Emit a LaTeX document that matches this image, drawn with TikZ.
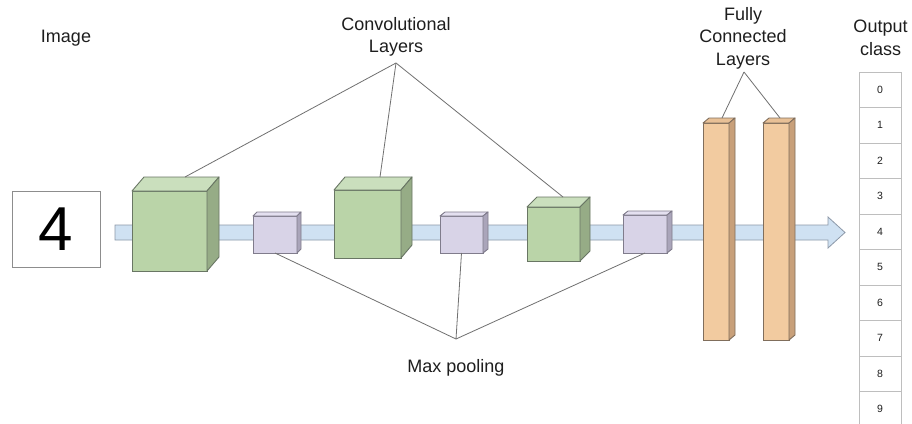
\documentclass[tikz,border=0pt]{standalone}
\usepackage{fontspec}
\setmainfont{Liberation Sans}
\usetikzlibrary{calc}
\definecolor{gfront}{RGB}{186,212,168}
\definecolor{gtop}{RGB}{202,223,189}
\definecolor{gside}{RGB}{150,172,134}
\definecolor{gedge}{RGB}{105,118,100}
\definecolor{pfront}{RGB}{216,211,231}
\definecolor{ptop}{RGB}{228,224,240}
\definecolor{pside}{RGB}{170,165,186}
\definecolor{pedge}{RGB}{128,124,140}
\definecolor{ofront}{RGB}{242,203,160}
\definecolor{otop}{RGB}{232,192,150}
\definecolor{oside}{RGB}{200,160,122}
\definecolor{oedge}{RGB}{128,110,92}
\definecolor{bandc}{RGB}{207,225,242}
\definecolor{bande}{RGB}{140,152,168}
\definecolor{linec}{RGB}{112,112,112}
\definecolor{cellc}{RGB}{190,190,190}
\definecolor{txt}{RGB}{30,30,30}
\tikzset{
  face/.style={inner sep=0pt,outer sep=0pt,line width=0.9pt},
  gcube/.style={face,draw=gedge,fill=gfront},
  pcube/.style={face,draw=pedge,fill=pfront},
  ocube/.style={face,draw=oedge,fill=ofront},
  label/.style={align=center,text=txt,font=\fontsize{18}{22.5}\selectfont},
  link/.style={draw=linec,line width=0.8pt},
  cell/.style={draw=cellc,line width=0.8pt,minimum width=42pt,minimum height=35.5pt,inner sep=0pt,text=txt,font=\fontsize{10.5}{12}\selectfont},
}
% #1 name, #2 style prefix (g/p/o), #3 dx, #4 dy
\newcommand{\cubefaces}[4]{%
  \filldraw[#2top,draw=#2edge,line width=0.9pt,line join=round]
    (#1.north west) -- ++(#3,-#4) -- ($(#1.north east)+(#3,-#4)$) -- (#1.north east) -- cycle;
  \filldraw[#2side,draw=#2edge,line width=0.9pt,line join=round]
    (#1.north east) -- ++(#3,-#4) -- ($(#1.south east)+(#3,-#4)$) -- (#1.south east) -- cycle;
}
\begin{document}
\begin{tikzpicture}[x=1pt,y=-1pt]
\useasboundingbox (0,0) rectangle (912,423);
\clip (0,0) rectangle (912,423);
\fill[white] (0,0) rectangle (912,423);

% labels
\node[label] (limg) at (66,38) {Image};
\node[label] (lconv) at (396,37) {Convolutional\\Layers};
\node[label] (lfc) at (743,38) {Fully\\Connected\\Layers};
\node[label] (lout) at (880.5,38) {Output\\class};
\node[label] (lpool) at (456,368) {Max pooling};

% input image
\node[draw=linec!80,line width=0.9pt,minimum width=88pt,minimum height=76pt,inner sep=0pt,text=black,font=\fontsize{62}{62}\selectfont] (img) at (56,229) {4};

% data flow band arrow
\filldraw[fill=bandc,draw=bande,line width=0.8pt,line join=miter]
  (115,225) -- (828,225) -- (828,217) -- (845,232.5) -- (828,248) -- (828,240) -- (115,240) -- cycle;

% conv and pooling blocks
\node[gcube,minimum width=75pt,minimum height=80pt] (c1) at (169.5,231) {};
\cubefaces{c1}{g}{12}{14}
\node[pcube,minimum width=44pt,minimum height=37pt] (p1) at (275,234.5) {};
\cubefaces{p1}{p}{4}{4}
\node[gcube,minimum width=67pt,minimum height=68pt] (c2) at (367.5,224) {};
\cubefaces{c2}{g}{11}{13}
\node[pcube,minimum width=43pt,minimum height=37pt] (p2) at (461.5,234.5) {};
\cubefaces{p2}{p}{5}{4}
\node[gcube,minimum width=53pt,minimum height=54pt] (c3) at (553.5,234) {};
\cubefaces{c3}{g}{10}{10}
\node[pcube,minimum width=44pt,minimum height=38pt] (p3) at (645,234) {};
\cubefaces{p3}{p}{5}{4}

% fully connected layers
\node[ocube,minimum width=26pt,minimum height=217pt] (f1) at (716,231.5) {};
\cubefaces{f1}{o}{6}{5}
\node[ocube,minimum width=26pt,minimum height=217pt] (f2) at (776,231.5) {};
\cubefaces{f2}{o}{6}{5}

% output class table
\foreach \i in {0,...,9}{
  \node[cell] (o\i) at (880,{89.75+35.5*\i}) {\i};
}

% connector points
\coordinate (aconv) at (396,63);
\coordinate (apool) at (456,339);
\coordinate (afc) at (744,72);
\coordinate (c1t) at (185,177);
\coordinate (c2t) at (380,177);
\coordinate (c3t) at (563,197);
\coordinate (f1t) at ($(f1.north)+(6,-5)$);
\coordinate (f2t) at ($(f2.north)+(4,-5)$);

\draw[link] (aconv) -- (c1t);
\draw[link] (aconv) -- (c2t);
\draw[link] (aconv) -- (c3t);
\draw[link] (apool) -- (p1.south);
\draw[link] (apool) -- (p2.south);
\draw[link] (apool) -- (p3.south);
\draw[link] (afc) -- (f1t);
\draw[link] (afc) -- (f2t);
\end{tikzpicture}
\end{document}
